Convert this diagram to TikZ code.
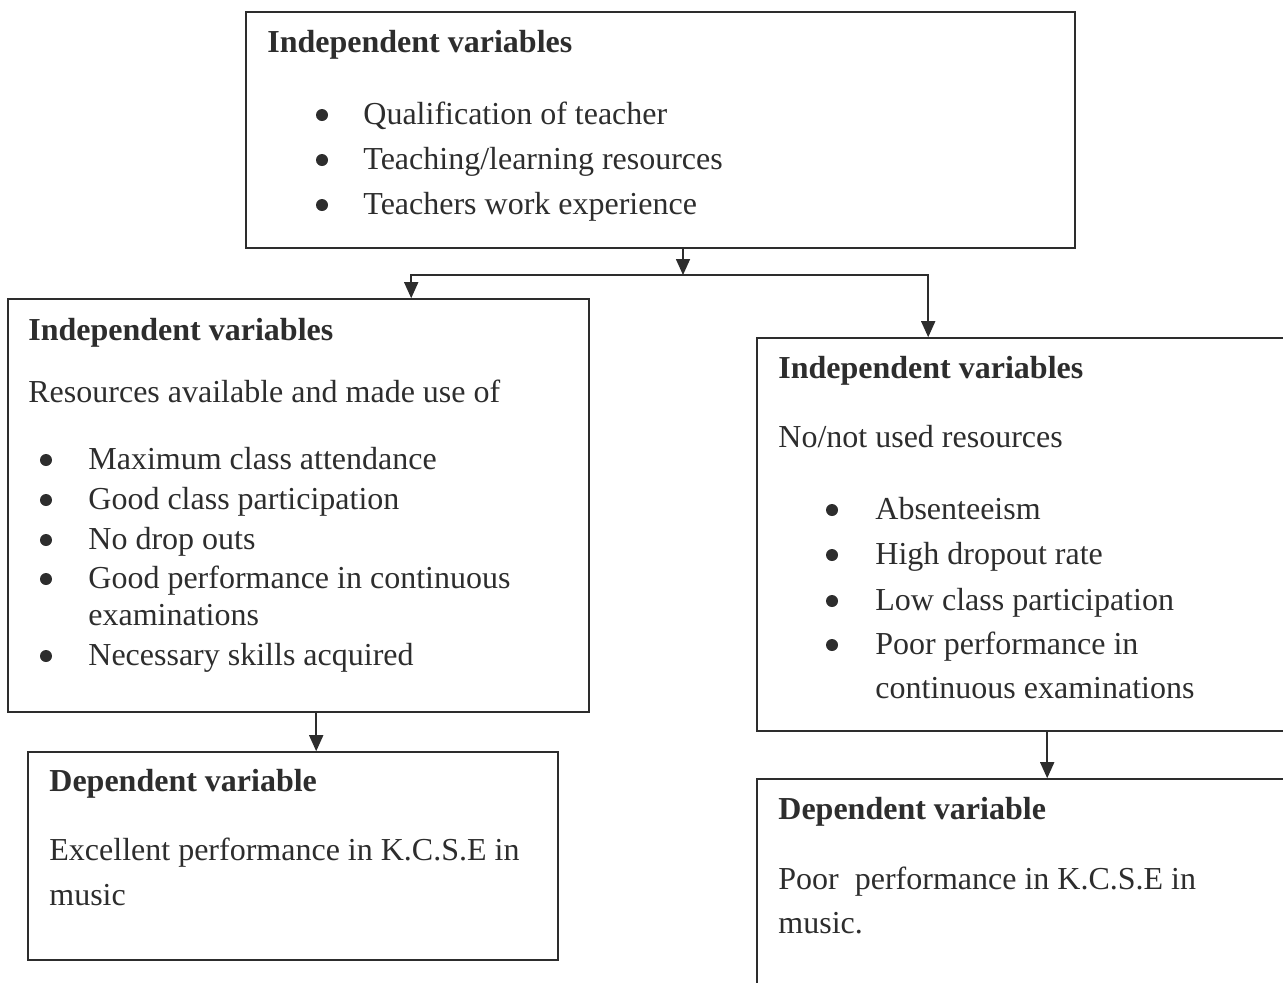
\documentclass[tikz,border=0pt]{standalone}
\usepackage{fontspec}
\setmainfont{Liberation Serif}
\usetikzlibrary{calc}
\usetikzlibrary{positioning}
\usetikzlibrary{arrows.meta}
\definecolor{ink}{RGB}{45,45,45}
\tikzstyle{framebox} = [draw=ink, line width=0.8pt, rectangle, inner sep=0pt]
\tikzstyle{headtext} = [anchor=base west, inner sep=0pt, text=ink, font=\fontsize{16}{22}\selectfont\bfseries]
\tikzstyle{bodytext} = [anchor=base west, inner sep=0pt, text=ink, font=\fontsize{16}{22}\selectfont]
\tikzstyle{dotmark} = [circle, fill=ink, inner sep=0pt, minimum size=6pt]
\tikzstyle{flow} = [draw=ink, line width=0.8pt, -{Triangle[length=8pt,width=7pt]}]

\begin{document}
\begin{tikzpicture}[x=0.5pt, y=-0.5pt]
    \useasboundingbox (0,0) rectangle (1283,982);
    \clip (0,0) rectangle (1283,982);

    \node[framebox, minimum width=414.5pt, minimum height=118pt] (teacher_box) at (660.5,130) {};
    \node[headtext] (teacher_head) at (267,52) {Independent variables};
    \node[dotmark] (teacher_b1) at (322,115) {};
    \node[bodytext] (teacher_t1) at (363,124) {Qualification of teacher};
    \node[dotmark] (teacher_b2) at (322,160) {};
    \node[bodytext] (teacher_t2) at (363,169) {Teaching/learning resources};
    \node[dotmark] (teacher_b3) at (322,205) {};
    \node[bodytext] (teacher_t3) at (363,214) {Teachers work experience};

    \node[framebox, minimum width=290.5pt, minimum height=206.5pt] (avail_box) at (298.5,505.5) {};
    \node[headtext] (avail_head) at (28,340) {Independent variables};
    \node[bodytext] (avail_intro) at (28,402) {Resources available and made use of};
    \node[dotmark] (avail_b1) at (46,460) {};
    \node[bodytext] (avail_t1) at (88,469) {Maximum class attendance};
    \node[dotmark] (avail_b2) at (46,500) {};
    \node[bodytext] (avail_t2) at (88,509) {Good class participation};
    \node[dotmark] (avail_b3) at (46,540) {};
    \node[bodytext] (avail_t3) at (88,549) {No drop outs};
    \node[dotmark] (avail_b4) at (46,579) {};
    \node[bodytext] (avail_t4) at (88,588) {Good performance in continuous};
    \node[bodytext] (avail_t4b) at (88,625) {examinations};
    \node[dotmark] (avail_b5) at (46,656) {};
    \node[bodytext] (avail_t5) at (88,665) {Necessary skills acquired};

    \node[framebox, minimum width=265pt, minimum height=104pt] (good_box) at (293,856) {};
    \node[headtext] (good_head) at (49,791) {Dependent variable};
    \node[bodytext] (good_t1) at (49,860) {Excellent performance in K.C.S.E in};
    \node[bodytext] (good_t2) at (49,905) {music};

    \node[framebox, minimum width=271.5pt, minimum height=196.5pt] (unused_box) at (1028.5,534.5) {};
    \node[headtext] (unused_head) at (778,378) {Independent variables};
    \node[bodytext] (unused_intro) at (778,447) {No/not used resources};
    \node[dotmark] (unused_b1) at (832,510) {};
    \node[bodytext] (unused_t1) at (875,519) {Absenteeism};
    \node[dotmark] (unused_b2) at (832,555) {};
    \node[bodytext] (unused_t2) at (875,564) {High dropout rate};
    \node[dotmark] (unused_b3) at (832,601) {};
    \node[bodytext] (unused_t3) at (875,610) {Low class participation};
    \node[dotmark] (unused_b4) at (832,645) {};
    \node[bodytext] (unused_t4) at (875,654) {Poor performance in};
    \node[bodytext] (unused_t4b) at (875,698) {continuous examinations};

    \node[framebox, minimum width=271.5pt, minimum height=110.5pt] (poor_box) at (1028.5,889.5) {};
    \node[headtext] (poor_head) at (778,819) {Dependent variable};
    \node[bodytext] (poor_t1) at (778,889) {Poor\ \ performance in K.C.S.E in};
    \node[bodytext] (poor_t2) at (778,933) {music.};

    \coordinate (split) at (683,275);
    \coordinate (avail_out) at ($(avail_box.south west)+(309,0)$);
    \coordinate (unused_out) at ($(unused_box.south west)+(291,0)$);
    \draw[flow] (split |- teacher_box.south) -- (split);
    \draw[flow] (split) -| ($(avail_box.north west)+(404,0)$);
    \draw[flow] (split) -| ($(unused_box.north west)+(172,0)$);
    \draw[flow] (avail_out) -- (avail_out |- good_box.north);
    \draw[flow] (unused_out) -- (unused_out |- poor_box.north);
\end{tikzpicture}
\end{document}
